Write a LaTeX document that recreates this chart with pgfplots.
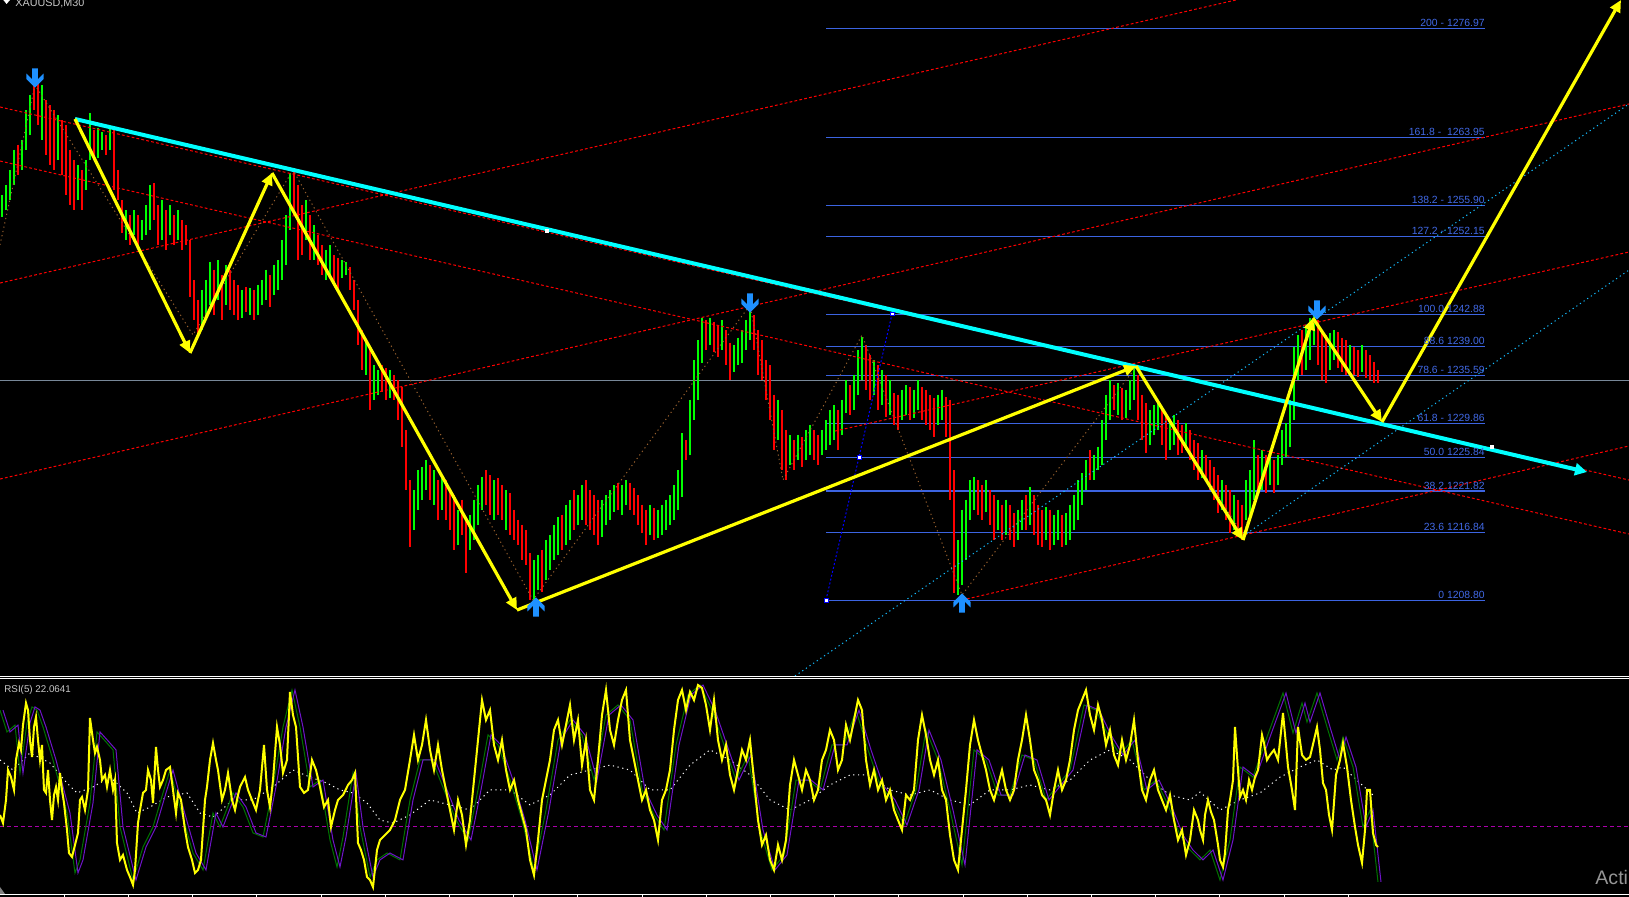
\documentclass[border=0pt]{standalone}
\usepackage{pgfplots}
\pgfplotsset{compat=1.18}
\usepackage{pgfplotstable}
\usepackage{fontspec}
\setmainfont{Liberation Sans}
\usetikzlibrary{arrows.meta}
\definecolor{barG}{RGB}{0,255,0}
\definecolor{barR}{RGB}{255,0,0}
\definecolor{fib}{RGB}{60,100,225}
\definecolor{fibtxt}{RGB}{65,105,230}
\definecolor{cyanL}{RGB}{0,255,255}
\definecolor{zz}{RGB}{255,255,0}
\definecolor{dotcyan}{RGB}{20,190,255}
\definecolor{brownz}{RGB}{150,95,45}
\definecolor{arrowblue}{RGB}{30,144,255}
\definecolor{priceline}{RGB}{120,136,153}
\definecolor{rsiG}{RGB}{0,115,0}
\definecolor{rsiP}{RGB}{110,20,200}
\definecolor{lvl}{RGB}{170,0,170}
\definecolor{txtgrey}{RGB}{200,200,200}

\pgfdeclareplotmark{fdown}{%
  \pgfpathmoveto{\pgfpoint{-1.4pt}{4.8pt}}%
  \pgfpathlineto{\pgfpoint{1.4pt}{4.8pt}}%
  \pgfpathlineto{\pgfpoint{1.4pt}{-0.7pt}}%
  \pgfpathlineto{\pgfpoint{4.3pt}{2.2pt}}%
  \pgfpathlineto{\pgfpoint{4.3pt}{-0.5pt}}%
  \pgfpathlineto{\pgfpoint{0pt}{-4.8pt}}%
  \pgfpathlineto{\pgfpoint{-4.3pt}{-0.5pt}}%
  \pgfpathlineto{\pgfpoint{-4.3pt}{2.2pt}}%
  \pgfpathlineto{\pgfpoint{-1.4pt}{-0.7pt}}%
  \pgfpathclose\pgfusepath{fill}}
\pgfdeclareplotmark{fup}{%
  \pgfpathmoveto{\pgfpoint{-1.4pt}{-4.8pt}}%
  \pgfpathlineto{\pgfpoint{1.4pt}{-4.8pt}}%
  \pgfpathlineto{\pgfpoint{1.4pt}{0.7pt}}%
  \pgfpathlineto{\pgfpoint{4.3pt}{-2.2pt}}%
  \pgfpathlineto{\pgfpoint{4.3pt}{0.5pt}}%
  \pgfpathlineto{\pgfpoint{0pt}{4.8pt}}%
  \pgfpathlineto{\pgfpoint{-4.3pt}{0.5pt}}%
  \pgfpathlineto{\pgfpoint{-4.3pt}{-2.2pt}}%
  \pgfpathlineto{\pgfpoint{-1.4pt}{0.7pt}}%
  \pgfpathclose\pgfusepath{fill}}

\pgfplotstableread{
x l h
2 1254.5 1257.1
6 1255.3 1258.3
10 1256.5 1260.1
14 1258.3 1262.5
22 1260.1 1263.6
26 1262.5 1267.2
30 1264.2 1269.0
42 1263.6 1270.2
58 1261.3 1266.6
78 1256.5 1260.7
86 1257.7 1261.3
90 1261.3 1266.9
98 1261.5 1265.1
102 1262.5 1264.6
110 1262.5 1265.1
126 1251.7 1255.3
134 1252.3 1255.3
142 1251.7 1254.1
146 1252.3 1255.9
150 1252.9 1258.3
162 1251.7 1256.5
170 1252.3 1255.9
178 1251.7 1255.3
202 1241.0 1245.8
206 1242.2 1247.0
210 1244.0 1249.1
218 1244.6 1249.3
226 1244.0 1248.8
242 1242.4 1245.8
250 1242.8 1246.0
258 1242.8 1246.4
262 1244.0 1247.0
266 1244.6 1248.2
274 1245.2 1248.8
278 1245.8 1249.3
282 1247.0 1251.7
286 1248.8 1254.7
290 1252.9 1259.7
306 1251.7 1256.5
314 1249.3 1253.5
326 1247.0 1250.5
330 1247.6 1251.1
342 1247.2 1249.3
346 1247.6 1249.1
366 1235.6 1239.8
374 1232.7 1236.8
378 1233.3 1236.2
390 1232.9 1236.2
414 1217.2 1221.9
418 1219.6 1224.3
422 1220.8 1224.7
426 1221.9 1225.5
434 1220.2 1224.3
442 1219.6 1223.7
458 1215.4 1219.6
470 1214.8 1219.0
474 1216.0 1220.8
478 1217.8 1222.5
482 1219.6 1223.5
494 1218.4 1223.1
506 1217.2 1221.9
534 1208.6 1213.6
538 1210.0 1214.2
546 1211.2 1216.0
550 1212.4 1216.6
554 1213.6 1217.8
558 1214.2 1218.7
566 1215.4 1220.2
570 1216.0 1220.8
578 1217.8 1221.3
582 1218.4 1222.5
602 1216.3 1220.8
606 1217.8 1221.3
610 1218.4 1221.9
614 1219.3 1222.5
622 1219.0 1222.5
626 1220.2 1223.1
650 1216.6 1220.2
658 1216.2 1219.6
662 1216.6 1220.2
666 1217.2 1220.8
670 1217.8 1221.3
674 1218.4 1222.5
678 1219.6 1224.3
682 1221.1 1228.7
690 1226.1 1232.7
694 1230.3 1237.4
698 1232.7 1239.8
702 1237.1 1242.4
710 1239.2 1242.4
722 1238.6 1242.2
734 1236.0 1239.2
738 1236.8 1240.1
742 1237.1 1241.0
746 1238.6 1242.2
750 1239.8 1244.0
778 1227.9 1232.7
790 1224.9 1228.5
798 1225.5 1228.5
806 1225.5 1229.1
810 1226.1 1229.7
822 1226.1 1229.1
826 1226.7 1230.3
830 1227.3 1231.5
834 1227.9 1232.1
842 1228.5 1232.7
846 1231.1 1235.0
854 1231.5 1235.6
858 1233.3 1238.6
862 1235.0 1240.2
874 1233.3 1237.4
882 1232.1 1236.2
890 1230.9 1235.0
902 1230.3 1233.9
906 1230.9 1234.4
914 1230.5 1233.9
918 1231.5 1235.0
938 1229.7 1233.3
942 1230.3 1233.9
958 1209.4 1216.0
962 1210.6 1219.6
966 1213.6 1220.8
970 1218.4 1223.1
974 1219.6 1223.5
986 1219.3 1223.1
998 1217.2 1220.8
1006 1216.6 1220.8
1018 1216.0 1219.6
1022 1217.2 1220.8
1030 1217.8 1222.3
1046 1216.0 1219.9
1054 1215.4 1219.0
1058 1216.0 1219.6
1066 1215.4 1219.2
1070 1216.0 1220.2
1074 1217.2 1221.3
1078 1218.4 1223.1
1082 1220.2 1224.0
1086 1221.9 1225.5
1094 1223.1 1226.1
1098 1224.3 1227.1
1102 1224.9 1230.3
1106 1227.9 1233.3
1110 1230.3 1235.0
1118 1230.9 1234.7
1126 1230.5 1233.9
1130 1231.5 1235.0
1134 1232.7 1236.6
1150 1227.3 1231.5
1154 1228.5 1232.1
1158 1229.1 1232.7
1170 1226.7 1230.3
1174 1227.3 1230.9
1186 1226.7 1229.9
1202 1223.4 1226.7
1222 1219.6 1223.1
1234 1217.2 1221.3
1246 1218.4 1223.1
1250 1219.0 1224.3
1254 1220.8 1227.9
1262 1221.9 1226.7
1270 1222.5 1226.7
1278 1222.5 1226.1
1282 1224.9 1229.1
1286 1225.9 1229.9
1290 1227.1 1232.7
1294 1230.3 1239.0
1298 1235.0 1240.4
1306 1236.2 1241.6
1310 1237.4 1242.4
1314 1239.2 1242.8
1330 1236.2 1240.7
1334 1237.4 1241.0
1350 1236.2 1239.2
1362 1236.0 1239.2
}\gbars

\pgfplotstableread{
x l h
18 1259.5 1263.1
34 1267.2 1270.8
38 1265.4 1270.6
46 1261.9 1268.4
50 1260.7 1267.8
54 1260.1 1267.2
62 1259.5 1266.0
66 1257.1 1265.4
70 1255.9 1262.5
74 1255.3 1261.3
82 1255.3 1260.1
94 1261.3 1264.8
106 1261.9 1264.2
114 1257.7 1265.2
118 1256.5 1260.1
122 1252.6 1256.5
130 1251.1 1254.7
138 1251.1 1254.7
154 1254.1 1258.5
158 1251.1 1255.9
166 1250.5 1255.3
174 1251.1 1254.7
182 1250.5 1254.1
186 1251.1 1253.5
190 1244.9 1251.7
194 1242.2 1247.0
198 1240.7 1244.6
214 1242.8 1248.2
222 1242.2 1247.6
230 1243.4 1248.2
234 1242.8 1247.0
238 1242.2 1246.4
246 1243.2 1246.1
254 1242.2 1245.8
270 1243.8 1247.6
294 1254.7 1260.1
298 1249.3 1258.3
302 1249.9 1255.9
310 1249.3 1254.7
318 1248.8 1252.3
322 1247.6 1251.1
334 1246.4 1249.9
338 1245.8 1249.6
350 1245.8 1248.5
354 1243.4 1247.0
358 1239.2 1244.6
362 1236.2 1241.0
370 1231.5 1238.6
382 1233.6 1236.8
386 1232.7 1236.5
394 1232.7 1235.6
398 1230.3 1235.0
402 1227.1 1234.2
406 1221.9 1229.1
410 1215.1 1223.1
430 1220.8 1224.9
438 1218.4 1223.1
446 1218.4 1223.1
450 1217.2 1221.9
454 1214.8 1221.3
462 1216.6 1220.8
466 1212.1 1218.4
486 1220.2 1224.3
490 1219.0 1223.7
498 1219.0 1223.4
502 1218.4 1222.5
510 1216.6 1221.6
514 1216.0 1219.6
518 1215.4 1218.4
522 1213.6 1217.8
526 1213.0 1217.2
530 1208.8 1214.4
542 1209.8 1214.8
562 1214.8 1219.0
574 1217.2 1221.9
586 1217.8 1223.1
590 1217.2 1221.9
594 1216.6 1221.3
598 1215.4 1220.8
618 1219.6 1222.8
630 1219.6 1222.8
634 1219.0 1222.2
638 1217.8 1221.3
642 1216.8 1220.2
646 1215.4 1219.6
654 1216.0 1219.8
686 1225.5 1227.9
706 1238.6 1242.2
714 1238.4 1242.0
718 1237.8 1241.6
726 1236.8 1241.0
730 1235.0 1239.5
754 1238.6 1242.8
758 1235.6 1241.0
762 1235.0 1239.8
766 1232.7 1237.4
770 1230.3 1236.8
774 1226.7 1233.3
782 1224.3 1231.5
786 1223.1 1229.1
794 1224.3 1227.9
802 1224.7 1228.3
814 1225.5 1229.1
818 1224.9 1228.5
838 1226.7 1231.5
850 1230.9 1234.4
866 1233.9 1239.2
870 1232.7 1238.0
878 1231.5 1236.8
886 1230.6 1235.6
894 1229.7 1233.5
898 1229.1 1233.3
910 1230.3 1234.2
922 1230.3 1234.2
926 1229.7 1233.9
930 1229.1 1233.3
934 1228.3 1232.9
946 1228.3 1233.0
950 1220.8 1232.7
954 1209.7 1224.3
978 1219.0 1223.1
982 1218.4 1222.5
990 1217.8 1221.9
994 1216.0 1221.3
1002 1216.0 1220.2
1010 1216.0 1220.2
1014 1215.1 1219.2
1026 1217.2 1221.3
1034 1216.6 1221.3
1038 1215.4 1220.2
1042 1215.1 1219.6
1050 1214.8 1219.6
1062 1215.1 1219.0
1090 1223.1 1226.7
1114 1231.5 1234.4
1122 1230.3 1234.1
1138 1230.3 1235.6
1142 1227.9 1233.3
1146 1226.3 1232.3
1162 1227.3 1231.5
1166 1225.5 1231.1
1178 1226.1 1230.3
1182 1226.3 1229.7
1190 1225.5 1229.1
1194 1224.3 1227.9
1198 1223.1 1227.5
1206 1223.1 1226.1
1210 1221.9 1225.5
1214 1220.8 1224.7
1218 1219.2 1223.7
1226 1218.4 1222.5
1230 1216.8 1221.9
1238 1216.6 1220.8
1242 1216.0 1220.2
1258 1221.3 1226.1
1266 1221.6 1226.1
1274 1221.6 1225.5
1302 1235.6 1241.0
1318 1236.8 1242.2
1322 1235.0 1241.0
1326 1234.7 1240.4
1338 1236.5 1240.8
1342 1236.0 1240.1
1346 1235.6 1239.8
1354 1235.6 1239.0
1358 1235.4 1238.6
1366 1235.3 1238.6
1370 1235.0 1238.0
1374 1234.7 1237.2
1378 1234.7 1236.2
}\rbars

\pgfplotstableread{
x r
0 37.4
3 33.6
6 44.4
8 58.4
11 55.1
14 49.1
16 63.1
19 71.0
21 67.8
23 79.4
26 89.7
28 86.4
30 72.4
32 64.5
34 78.5
36 83.2
38 72.4
40 63.1
42 70.1
44 49.1
46 47.7
48 58.4
50 44.4
52 35.0
54 46.7
56 50.5
58 44.4
60 57.0
62 49.1
64 43.0
67 30.4
69 19.6
72 17.8
75 23.4
78 29.0
80 44.4
82 45.8
85 39.7
88 49.1
90 82.7
93 72.4
95 66.4
97 69.2
100 63.1
102 53.7
105 56.1
107 50.5
110 58.4
113 49.1
115 53.7
117 24.3
120 16.4
123 18.7
127 11.7
130 8.4
133 4.7
135 11.7
138 33.6
140 39.7
143 47.7
146 49.1
148 58.4
151 53.7
153 43.0
156 69.2
158 58.4
160 50.5
163 53.7
166 58.4
170 59.8
173 49.1
176 38.3
178 47.7
181 44.4
185 30.4
188 22.4
192 16.4
195 10.3
198 11.7
201 16.4
205 44.4
207 50.5
210 63.1
213 71.0
216 63.1
218 58.4
222 44.4
225 49.1
228 57.0
232 44.4
235 39.7
238 46.7
240 50.5
245 55.1
248 49.1
252 44.4
256 39.7
260 49.1
264 70.1
267 49.1
270 41.1
273 53.7
277 78.5
280 70.1
283 57.0
287 63.1
290 94.9
293 84.1
296 78.5
300 50.5
304 47.7
308 49.1
312 63.1
316 58.4
320 50.5
324 41.1
328 44.4
331 31.8
335 39.7
338 44.4
343 46.7
348 51.4
352 53.7
355 57.0
358 24.3
361 21.0
364 16.4
367 8.4
370 7.0
373 3.7
377 21.0
380 25.7
385 28.0
390 30.4
395 35.0
400 44.4
405 49.1
410 63.1
414 74.8
418 63.1
422 70.1
426 81.8
430 67.8
434 58.4
438 70.1
442 58.4
446 49.1
450 39.7
454 30.4
458 44.4
462 37.4
466 23.4
470 35.0
474 53.7
478 72.4
482 91.1
486 81.8
490 86.4
494 70.1
498 63.1
502 72.4
506 58.4
510 49.1
514 53.7
518 44.4
522 37.4
526 30.4
530 16.4
534 9.3
538 25.7
542 44.4
546 53.7
550 63.1
554 77.1
558 81.8
562 70.1
566 79.4
570 88.8
574 72.4
578 81.8
582 60.7
586 72.4
590 49.1
594 44.4
598 63.1
602 84.1
606 95.8
610 77.1
614 70.1
618 81.8
622 91.1
626 95.8
630 72.4
634 63.1
638 53.7
642 44.4
646 49.1
650 39.7
654 35.0
658 25.7
662 44.4
666 49.1
670 58.4
674 77.1
678 91.1
682 95.8
686 86.4
690 94.9
694 91.1
698 98.1
702 96.7
706 88.8
710 77.1
714 91.1
718 72.4
722 63.1
726 70.1
730 56.1
734 49.1
738 58.4
742 67.8
746 63.1
750 72.4
754 53.7
758 35.0
762 23.4
766 28.0
770 16.4
774 11.7
778 23.4
782 16.4
786 25.7
790 51.4
794 63.1
798 56.1
802 49.1
806 58.4
810 53.7
814 44.4
818 49.1
822 63.1
826 67.8
830 77.1
834 72.4
838 58.4
842 63.1
846 79.4
850 72.4
854 81.8
858 91.1
862 86.4
866 63.1
870 51.4
874 58.4
878 49.1
882 53.7
886 44.4
890 49.1
894 39.7
898 35.0
902 30.4
906 46.7
910 44.4
914 49.1
918 72.4
922 84.1
926 74.8
930 63.1
934 56.1
938 63.1
942 49.1
946 44.4
950 28.0
954 16.4
958 11.7
962 30.4
966 49.1
970 70.1
974 81.8
978 72.4
982 65.4
986 58.4
990 49.1
994 44.4
998 51.4
1002 58.4
1006 49.1
1010 44.4
1014 49.1
1018 63.1
1022 72.4
1026 84.1
1030 72.4
1034 58.4
1038 53.7
1042 46.7
1046 44.4
1050 37.4
1054 49.1
1058 58.4
1062 49.1
1066 53.7
1070 63.1
1074 77.1
1078 86.4
1082 91.1
1086 95.8
1090 84.1
1094 77.1
1098 88.8
1102 81.8
1106 70.1
1110 77.1
1114 65.4
1118 60.7
1122 72.4
1126 63.1
1130 70.1
1134 81.8
1138 63.1
1142 49.1
1146 44.4
1150 53.7
1154 58.4
1158 49.1
1162 44.4
1166 39.7
1170 46.7
1174 35.0
1178 25.7
1182 30.4
1186 18.7
1190 25.7
1194 39.7
1198 35.0
1200 30.4
1203 25.7
1205 37.4
1208 44.4
1211 38.8
1214 35.0
1218 23.4
1220 16.4
1223 13.1
1225 19.6
1228 39.7
1230 44.4
1233 53.7
1235 78.5
1238 58.4
1240 45.8
1243 49.1
1246 44.4
1249 53.7
1252 49.1
1255 55.1
1258 58.4
1262 74.8
1264 71.0
1267 63.1
1270 65.4
1274 67.8
1278 63.1
1283 85.0
1286 70.1
1288 59.8
1292 49.1
1295 39.7
1298 78.5
1302 65.4
1306 63.1
1310 64.5
1314 72.4
1317 78.5
1320 67.8
1323 52.3
1326 49.1
1329 37.4
1332 30.4
1336 56.1
1340 63.1
1343 71.0
1347 59.8
1351 44.4
1355 31.8
1358 23.4
1362 15.0
1365 30.4
1367 49.1
1370 49.1
1373 29.0
1376 23.4
1378 22.4
}\rsiY

\pgfplotstableread{
x r
0 86.4
7 76.2
15 79.4
20 57.0
27 80.4
32 87.9
37 86.4
43 78.5
53 63.1
67 38.3
75 10.3
80 16.4
90 43.0
97 76.2
107 71.0
113 67.8
120 31.8
133 7.0
143 22.4
153 31.8
163 47.7
170 58.4
180 41.1
193 19.6
203 11.7
213 38.3
220 31.8
233 47.7
243 41.1
253 29.0
263 27.1
273 50.5
283 78.5
292 95.8
300 78.5
310 50.5
320 53.7
330 25.7
337 13.1
343 27.1
353 57.0
360 31.8
370 8.4
377 16.4
387 19.6
400 16.4
410 44.4
420 63.1
432 63.1
444 49.1
456 35.0
468 25.7
478 49.1
488 74.8
498 70.1
510 53.7
522 35.0
534 11.7
546 39.7
558 72.4
570 81.8
582 74.8
594 53.7
606 84.1
618 88.8
630 81.8
642 49.1
654 37.4
664 30.4
676 70.1
688 93.5
700 98.1
712 86.4
724 70.1
736 53.7
748 65.4
760 30.4
772 11.7
784 18.7
796 53.7
808 53.7
820 49.1
832 70.1
844 70.1
856 86.4
868 67.8
880 51.4
892 44.4
904 32.7
916 49.1
926 77.1
938 63.1
950 39.7
962 14.0
974 67.8
986 63.1
998 46.7
1010 46.7
1022 65.4
1034 63.1
1046 44.4
1058 51.4
1070 58.4
1084 88.8
1096 86.4
1108 74.8
1120 65.4
1132 72.4
1144 49.1
1156 53.7
1168 42.1
1180 28.0
1190 21.0
1200 16.4
1210 21.0
1220 7.0
1230 25.7
1240 59.8
1253 55.1
1267 73.8
1283 94.4
1293 75.7
1302 89.7
1307 80.8
1317 94.4
1327 78.5
1337 63.1
1343 73.8
1353 59.8
1363 31.8
1370 39.7
1378 6.1
}\rsiG

\pgfplotstableread{
x r
0 63.1
13 58.4
30 66.4
50 61.7
67 52.3
77 47.7
93 50.5
110 55.1
127 47.7
137 38.3
150 41.1
167 45.8
187 47.7
200 38.3
213 36.4
233 44.4
253 44.4
273 50.5
293 58.4
310 55.1
327 52.3
340 49.1
353 47.7
367 43.0
380 35.0
393 33.6
410 37.4
430 44.4
450 42.1
470 39.7
490 49.1
510 49.1
530 42.1
550 46.7
570 56.1
590 58.4
610 60.7
630 58.4
650 49.1
670 49.1
690 60.7
710 67.8
730 63.1
750 56.1
770 44.4
790 39.7
810 44.4
830 51.4
850 56.1
870 56.1
890 49.1
910 46.7
930 49.1
950 44.4
970 42.1
990 49.1
1010 49.1
1030 51.4
1050 49.1
1070 53.7
1090 63.1
1110 67.8
1130 63.1
1150 53.7
1170 46.7
1190 44.4
1200 48.1
1220 39.7
1240 44.4
1260 47.7
1280 55.1
1300 59.8
1317 63.1
1333 58.4
1343 59.8
1360 52.3
1375 45.8
}\rsiW

\begin{document}
\begin{tikzpicture}
\useasboundingbox (0,0) rectangle (814.5pt,448.5pt);
\fill[black] (0,0) rectangle (814.5pt,448.5pt);
\clip (0,0) rectangle (814.5pt,448.5pt);

% ---------------- price panel ----------------
\begin{axis}[at={(0pt,110.5pt)}, anchor=south west,
  width=814.5pt, height=338pt, scale only axis,
  xmin=0, xmax=1629, ymin=1199.78, ymax=1280.34,
  axis lines=none, ticks=none, clip=true]

% current price line
\addplot[priceline, line width=0.5pt] coordinates {(0,1235.05) (1629,1235.05)};

% Fibonacci levels
\addplot[fib, line width=0.55pt] coordinates {(826,1276.97) (1485,1276.97)};
\addplot[fib, line width=0.55pt] coordinates {(826,1263.95) (1485,1263.95)};
\addplot[fib, line width=0.55pt] coordinates {(826,1255.90) (1485,1255.90)};
\addplot[fib, line width=0.55pt] coordinates {(826,1252.15) (1485,1252.15)};
\addplot[fib, line width=0.55pt] coordinates {(826,1242.88) (1485,1242.88)};
\addplot[fib, line width=0.55pt] coordinates {(826,1239.00) (1485,1239.00)};
\addplot[fib, line width=0.55pt] coordinates {(826,1235.59) (1485,1235.59)};
\addplot[fib, line width=0.55pt] coordinates {(826,1229.86) (1485,1229.86)};
\addplot[fib, line width=0.55pt] coordinates {(826,1225.84) (1485,1225.84)};
\addplot[fib, line width=0.55pt] coordinates {(826,1221.82) (1485,1221.82)};
\addplot[fib, line width=0.55pt] coordinates {(826,1216.84) (1485,1216.84)};
\addplot[fib, line width=0.55pt] coordinates {(826,1208.80) (1485,1208.80)};

% bars
\addplot[draw=none, forget plot, error bars/.cd, y dir=minus, y explicit,
  error mark=none, error bar style={draw=barG, line width=0.6pt, solid}]
  table[x=x, y=h, y error minus expr={\thisrow{h}-\thisrow{l}}] {\gbars};
\addplot[draw=none, forget plot, error bars/.cd, y dir=minus, y explicit,
  error mark=none, error bar style={draw=barR, line width=0.6pt, solid}]
  table[x=x, y=h, y error minus expr={\thisrow{h}-\thisrow{l}}] {\rbars};

% red dashed channel lines
\addplot[barR, line width=0.5pt, dash pattern=on 1.4pt off 1.1pt] coordinates {(0,1246.61) (1629,1291.07)};
\addplot[barR, line width=0.5pt, dash pattern=on 1.4pt off 1.1pt] coordinates {(0,1223.25) (1629,1267.95)};
\addplot[barR, line width=0.5pt, dash pattern=on 1.4pt off 1.1pt] coordinates {(962,1208.83) (1629,1227.19)};
\addplot[barR, line width=0.5pt, dash pattern=on 1.4pt off 1.1pt] coordinates {(835,1228.97) (1629,1250.31)};
\addplot[barR, line width=0.5pt, dash pattern=on 1.4pt off 1.1pt] coordinates {(0,1267.59) (1629,1223.13)};
\addplot[barR, line width=0.5pt, dash pattern=on 1.4pt off 1.1pt] coordinates {(0,1261.15) (1629,1216.70)};

% light blue dotted lines
\addplot[dotcyan, line width=0.5pt, dash pattern=on 0.6pt off 1.6pt] coordinates {(795,1199.78) (1629,1267.95)};
\addplot[dotcyan, line width=0.5pt, dash pattern=on 0.6pt off 1.6pt] coordinates {(1243,1216.46) (1629,1248.16)};

% brown dotted zigzag
\addplot[brownz, line width=0.5pt, dash pattern=on 0.6pt off 1.6pt] coordinates {
(0,1251.15) (35,1270.21) (193,1240.42) (293,1260.08) (533,1208.83) (750,1243.99)
(783,1223.13) (862,1240.42) (962,1209.43) (1136,1236.60) (1243,1216.58) (1315,1242.80)};

% fibo anchor line
\addplot[blue, line width=0.5pt, dash pattern=on 1pt off 1pt, mark=square*, mark size=0.9pt,
  mark options={solid, fill=white, draw=blue, line width=0.3pt}]
  coordinates {(826,1208.83) (859,1225.87) (892,1242.92)};

% cyan trend line
\addplot[cyanL, line width=2pt, -{Triangle[length=6pt,width=6pt]}] coordinates {(75,1266.16) (1587,1224.09)};
\addplot[only marks, mark=square*, mark size=0.8pt, white] coordinates {(547,1252.81) (1492,1227.07)};

% yellow zigzag arrows
\addplot[zz, line width=1.6pt, -{Triangle[length=6pt,width=5.5pt]}] coordinates {(75,1266.16) (190,1238.27)};
\addplot[zz, line width=1.6pt, -{Triangle[length=6pt,width=5.5pt]}] coordinates {(190,1238.27) (272,1259.72)};
\addplot[zz, line width=1.6pt, -{Triangle[length=6pt,width=5.5pt]}] coordinates {(272,1259.72) (517,1207.64)};
\addplot[zz, line width=1.6pt, -{Triangle[length=6pt,width=5.5pt]}] coordinates {(517,1207.64) (1136,1236.72)};
\addplot[zz, line width=1.6pt, -{Triangle[length=6pt,width=5.5pt]}] coordinates {(1136,1236.72) (1243,1215.98)};
\addplot[zz, line width=1.6pt, -{Triangle[length=6pt,width=5.5pt]}] coordinates {(1243,1215.98) (1313,1242.44)};
\addplot[zz, line width=1.6pt, -{Triangle[length=6pt,width=5.5pt]}] coordinates {(1313,1242.44) (1382,1230.05)};
\addplot[zz, line width=1.6pt, -{Triangle[length=6pt,width=5.5pt]}] coordinates {(1382,1230.05) (1621,1280.34)};

% fractal arrows
\addplot[only marks, mark=fdown, arrowblue] coordinates {(35,1271.04) (750,1244.23) (1317,1243.40)};
\addplot[only marks, mark=fup, arrowblue] coordinates {(536,1208.00) (962,1208.48)};

% Fibonacci labels
\begin{scope}[every node/.style={anchor=base east, text=fibtxt, inner sep=0pt, yshift=1pt,
  font=\fontsize{5.2}{6}\selectfont}]
\node at (axis cs:1485,1276.97) {200 - 1276.97};
\node at (axis cs:1485,1263.95) {161.8 -\ \ 1263.95};
\node at (axis cs:1485,1255.90) {138.2 - 1255.90};
\node at (axis cs:1485,1252.15) {127.2 - 1252.15};
\node at (axis cs:1485,1242.88) {100.0 1242.88};
\node at (axis cs:1485,1239.00) {88.6 1239.00};
\node at (axis cs:1485,1235.59) {78.6 - 1235.59};
\node at (axis cs:1485,1229.86) {61.8 - 1229.86};
\node at (axis cs:1485,1225.84) {50.0 1225.84};
\node at (axis cs:1485,1221.82) {38.2 1221.82};
\node at (axis cs:1485,1216.84) {23.6 1216.84};
\node at (axis cs:1485,1208.80) {0 1208.80};
\end{scope}
\end{axis}

% ---------------- RSI panel ----------------
\begin{axis}[at={(0pt,1pt)}, anchor=south west,
  width=814.5pt, height=107.5pt, scale only axis,
  xmin=0, xmax=1629, ymin=0, ymax=100.47,
  axis x line*=bottom, axis y line=none,
  x axis line style={white, line width=0.5pt, -},
  xtick={64.2,128.4,...,1350}, xticklabels={}, ytick=\empty,
  tick style={white, line width=0.5pt}, major tick length=1pt, tick align=outside,
  clip=true]
\addplot[lvl, line width=0.5pt, dash pattern=on 2pt off 1.5pt] coordinates {(0,32.2) (1629,32.2)};
\addplot[white, line width=0.5pt, dash pattern=on 0.6pt off 1.8pt] table[x=x, y=r] {\rsiW};
\addplot[rsiG, line width=0.5pt] table[x=x, y=r] {\rsiG};
\addplot[rsiP, line width=0.5pt] table[x expr=\thisrow{x}+3, y=r] {\rsiG};
\addplot[zz, line width=1pt, line join=miter] table[x=x, y=r] {\rsiY};
\end{axis}

% separators and decorations
\draw[white, line width=0.5pt] (0,110.2pt) -- (814.5pt,110.2pt);
\draw[white, line width=0.5pt] (0,109.1pt) -- (814.5pt,109.1pt);
\fill[gray] (0,5pt) -- (0,1.5pt) -- (2.5pt,1.5pt) -- cycle;
\fill[white] (1.65pt,448.5pt) -- (5pt,448.5pt) -- (3.3pt,446.5pt) -- cycle;
\node[anchor=base west, inner sep=0pt, text=txtgrey, font=\fontsize{5.4}{6}\selectfont] at (7.5pt,445.4pt) {XAUUSD,M30};
\node[anchor=west, inner sep=0pt, text=txtgrey, font=\fontsize{4.9}{6}\selectfont] at (2pt,103.5pt) {RSI(5) 22.0641};
\node[anchor=base west, inner sep=0pt, text={rgb,255:red,150;green,150;blue,150}, font=\fontsize{9.8}{12}\selectfont] at (797.5pt,6pt) {Acti};
\end{tikzpicture}
\end{document}
